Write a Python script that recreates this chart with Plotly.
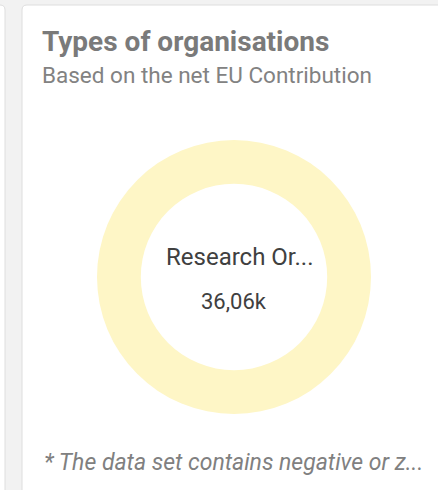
import plotly.graph_objects as go

# Data
categories = ["Research Organisations"]
values = [36060]
center_label = ["Research Or..."]
center_value = ["36,06k"]
title_text = "Types of organisations"
subtitle_text = "Based on the net EU Contribution"
footnote_text = "* The data set contains negative or z..."

W, H = 438, 490

def px_x(x):
    return x / W

def px_y(y):
    return 1 - y / H

def rounded_rect(x0, y0, x1, y1, r):
    return (
        f"M {px_x(x0 + r)},{px_y(y0)} "
        f"L {px_x(x1 - r)},{px_y(y0)} "
        f"Q {px_x(x1)},{px_y(y0)} {px_x(x1)},{px_y(y0 + r)} "
        f"L {px_x(x1)},{px_y(y1 - r)} "
        f"Q {px_x(x1)},{px_y(y1)} {px_x(x1 - r)},{px_y(y1)} "
        f"L {px_x(x0 + r)},{px_y(y1)} "
        f"Q {px_x(x0)},{px_y(y1)} {px_x(x0)},{px_y(y1 - r)} "
        f"L {px_x(x0)},{px_y(y0 + r)} "
        f"Q {px_x(x0)},{px_y(y0)} {px_x(x0 + r)},{px_y(y0)} Z"
    )

cx, cy, R = 234, 277, 137

fig = go.Figure(
    go.Pie(
        labels=categories,
        values=values,
        hole=0.68,
        marker=dict(colors=["#fef6c6"], line=dict(width=0)),
        textinfo="none",
        sort=False,
        showlegend=False,
        domain=dict(
            x=[px_x(cx - R), px_x(cx + R)],
            y=[px_y(cy + R), px_y(cy - R)],
        ),
    )
)

shapes = [
    dict(type="path", xref="paper", yref="paper",
         path=rounded_rect(-20, 5, 5, 520, 5),
         fillcolor="white", line=dict(color="#dedede", width=1), layer="below"),
    dict(type="path", xref="paper", yref="paper",
         path=rounded_rect(22, 5, 460, 520, 5),
         fillcolor="white", line=dict(color="#dedede", width=1), layer="below"),
]

font_family = "Roboto, 'Open Sans', sans-serif"
annotations = [
    dict(text=f"<b>{title_text}</b>", x=px_x(40), y=px_y(41), xref="paper", yref="paper",
         xanchor="left", yanchor="middle", showarrow=False,
         font=dict(family=font_family, size=28, color="#7a7a7a")),
    dict(text=subtitle_text, x=px_x(40), y=px_y(75), xref="paper", yref="paper",
         xanchor="left", yanchor="middle", showarrow=False,
         font=dict(family=font_family, size=22.5, color="#828282")),
    dict(text=center_label[0], x=px_x(240), y=px_y(257), xref="paper", yref="paper",
         xanchor="center", yanchor="middle", showarrow=False,
         font=dict(family=font_family, size=24, color="#404040")),
    dict(text=center_value[0], x=px_x(234), y=px_y(301), xref="paper", yref="paper",
         xanchor="center", yanchor="middle", showarrow=False,
         font=dict(family=font_family, size=22, color="#404040")),
    dict(text=f"<i>{footnote_text}</i>", x=px_x(42), y=px_y(462), xref="paper", yref="paper",
         xanchor="left", yanchor="middle", showarrow=False,
         font=dict(family=font_family, size=23, color="#808080")),
]

fig.update_layout(
    width=W, height=H,
    margin=dict(l=0, r=0, t=0, b=0),
    paper_bgcolor="#f2f2f2",
    plot_bgcolor="#f2f2f2",
    shapes=shapes,
    annotations=annotations,
    showlegend=False,
)

fig.write_html(
    "out.html",
    config={"displayModeBar": False},
    post_script="document.body.style.margin='0';document.body.style.overflow='hidden';",
)
